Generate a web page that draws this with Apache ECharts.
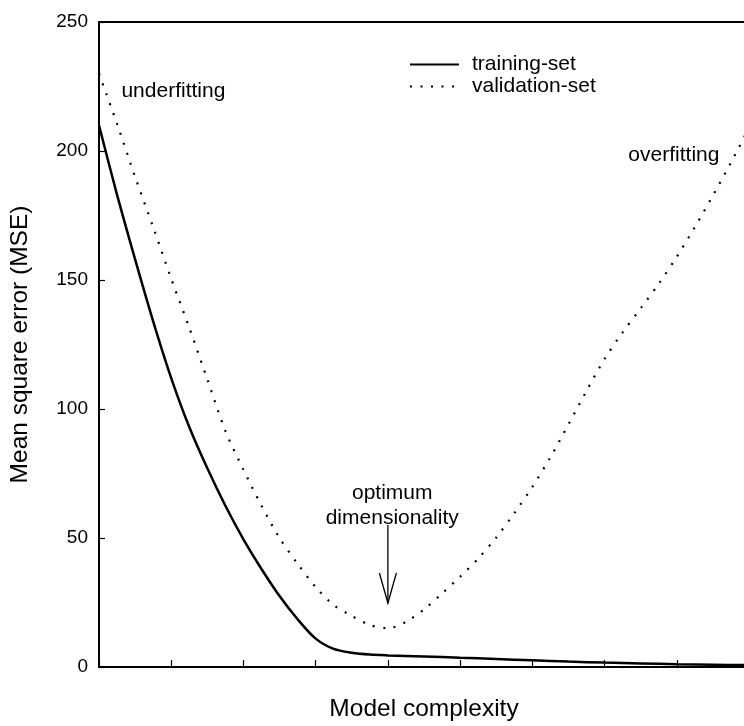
<!DOCTYPE html>
<html>
<head>
<meta charset="utf-8">
<script src="https://cdn.jsdelivr.net/npm/echarts@6/dist/echarts.min.js"></script>
<style>
  html, body { margin: 0; padding: 0; background: #fff; }
  #chart { width: 744px; height: 726px; }
</style>
</head>
<body>
<div id="chart"></div>
<script>
// Model complexity (arbitrary units) and the mean square error of each set
const trainingX = [0, 0.25, 0.5, 0.75, 1, 1.25, 1.5, 1.75, 2, 2.25, 2.5, 2.75, 3, 3.25, 3.5, 3.75, 4, 4.5, 5, 5.5, 6, 6.5, 7, 7.5, 8, 8.5, 9];
const trainingMSE = [210, 183, 158, 134, 112, 93, 77, 62.5, 49.5, 38, 27.5, 18.5, 11, 7, 5.5, 4.8, 4.5, 4.1, 3.6, 3.1, 2.6, 2.1, 1.7, 1.4, 1.1, 0.9, 0.7];

const validationX = [0, 0.25, 0.5, 0.75, 1, 1.25, 1.5, 1.75, 2, 2.25, 2.5, 2.75, 3, 3.25, 3.5, 3.75, 4, 4.25, 4.5, 4.75, 5, 5.25, 5.5, 5.75, 6, 6.25, 6.5, 6.75, 7, 7.25, 7.5, 7.75, 8, 8.25, 8.5, 8.75, 9];
const validationMSE = [230, 210.5, 190, 170.5, 150.5, 131.5, 111.5, 91.5, 76.5, 62.5, 50, 40, 31, 24, 19.8, 16.3, 15, 17.5, 22.3, 28.5, 35, 42, 50.2, 59.6, 69.8, 81.3, 94, 107, 119.4, 129.7, 139, 148.5, 159, 170.5, 182.7, 195.5, 209];

const seriesNames = ['training-set', 'validation-set'];
const axisNames = { x: 'Model complexity', y: 'Mean square error (MSE)' };
const yRange = { min: 0, max: 250, step: 50 };
const xRange = { min: 0, max: 9, step: 1 };

// Text notes anchored in data coordinates
const noteText = ['underfitting', 'overfitting', 'optimum\ndimensionality'];
const noteX = [1.03, 7.96, 4.06];
const noteY = [223, 198.4, 62.5];

// Arrow marking the optimum: complexity, start and tip of the shaft (MSE units)
const optimumArrow = [[4, 55, 24.8]];

const FONT = "'Liberation Sans', Arial, Helvetica, sans-serif";

const chart = echarts.init(document.getElementById('chart'), null, { renderer: 'canvas' });

const zip = (xs, ys) => xs.map((x, i) => [x, ys[i]]);

chart.setOption({
  animation: false,
  backgroundColor: '#fff',
  textStyle: { fontFamily: FONT, color: '#000' },
  grid: {
    left: 99, top: 22, right: -5, bottom: 59,
    show: true, borderColor: '#000', borderWidth: 2,
    outerBoundsMode: 'none'
  },
  legend: {
    data: seriesNames,
    orient: 'vertical',
    left: 404, top: 49,
    itemWidth: 49, itemHeight: 14, itemGap: 1,
    itemStyle: { opacity: 0 },
    textStyle: { fontSize: 21, color: '#000', fontFamily: FONT, padding: [0, 0, 0, 8] }
  },
  xAxis: {
    type: 'value',
    min: xRange.min, max: xRange.max, interval: xRange.step,
    name: axisNames.x,
    nameLocation: 'middle', nameGap: 30,
    nameTextStyle: { fontSize: 24.5, color: '#000', fontFamily: FONT },
    axisLine: { lineStyle: { color: '#000', width: 2 } },
    axisTick: { inside: true, length: 7, lineStyle: { color: '#000', width: 1.2 } },
    axisLabel: { show: false },
    splitLine: { show: false }
  },
  yAxis: {
    type: 'value',
    min: yRange.min, max: yRange.max, interval: yRange.step,
    name: axisNames.y,
    nameLocation: 'middle', nameGap: 66, nameRotate: 90,
    nameTextStyle: { fontSize: 24.5, color: '#000', fontFamily: FONT },
    axisLine: { show: true, lineStyle: { color: '#000', width: 1.5 } },
    axisTick: { show: true, inside: true, length: 6, lineStyle: { color: '#000', width: 1.2 } },
    axisLabel: { fontSize: 19, color: '#000', margin: 11, fontFamily: FONT },
    splitLine: { show: false }
  },
  series: [
    {
      name: seriesNames[0],
      type: 'line',
      data: zip(trainingX, trainingMSE),
      symbol: 'none',
      smooth: 0.3,
      lineStyle: { color: '#000', width: 2.5 },
      itemStyle: { color: '#000' }
    },
    {
      name: seriesNames[1],
      type: 'line',
      data: zip(validationX, validationMSE),
      symbol: 'none',
      smooth: 0.3,
      lineStyle: { color: '#000', width: 2.2, type: [2, 8.5] },
      itemStyle: { color: '#000' }
    },
    {
      name: 'notes',
      type: 'custom',
      silent: true,
      data: noteText.map((t, i) => [noteX[i], noteY[i], i]),
      encode: { x: 0, y: 1 },
      renderItem: function (params, api) {
        const p = api.coord([api.value(0), api.value(1)]);
        return {
          type: 'text',
          x: p[0], y: p[1],
          style: {
            text: noteText[api.value(2)],
            fill: '#000',
            font: '21px ' + FONT,
            align: 'center',
            verticalAlign: 'middle',
            lineHeight: 25
          }
        };
      }
    },
    {
      name: 'optimum',
      type: 'custom',
      silent: true,
      data: optimumArrow,
      encode: { x: 0, y: [1, 2] },
      renderItem: function (params, api) {
        const top = api.coord([api.value(0), api.value(1)]);
        const tip = api.coord([api.value(0), api.value(2)]);
        return {
          type: 'group',
          children: [
            {
              type: 'line',
              shape: { x1: top[0], y1: top[1], x2: tip[0], y2: tip[1] },
              style: { stroke: '#000', lineWidth: 1.3 }
            },
            {
              type: 'polyline',
              shape: { points: [[tip[0] - 8.5, tip[1] - 30], [tip[0], tip[1]], [tip[0] + 8.5, tip[1] - 30]] },
              style: { stroke: '#000', lineWidth: 1.3, fill: null }
            }
          ]
        };
      }
    }
  ]
});
</script>
</body>
</html>
